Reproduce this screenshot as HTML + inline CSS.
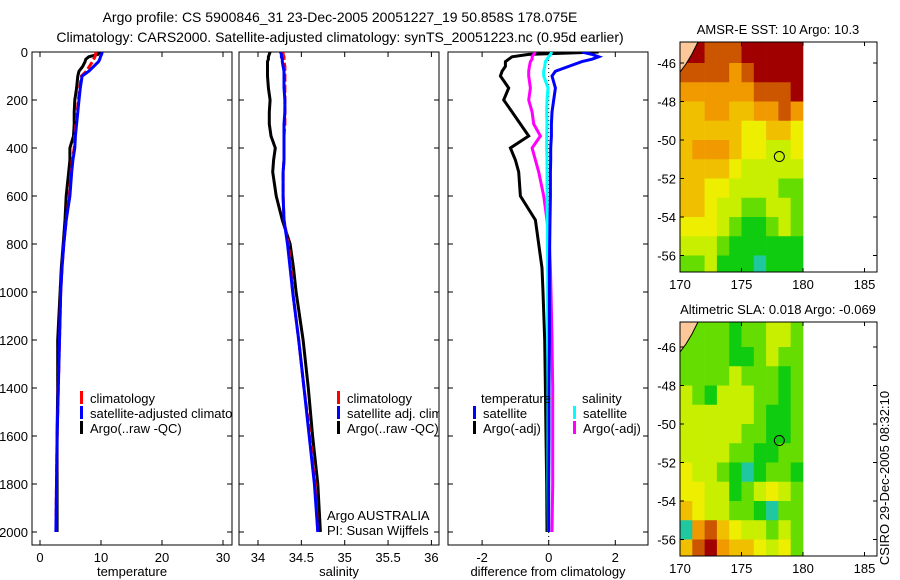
<!DOCTYPE html>
<html><head><meta charset="utf-8">
<style>
html,body{margin:0;padding:0;background:#fff;}
svg{display:block;font-family:"Liberation Sans",sans-serif;}
</style></head>
<body>
<svg id="fig" width="900" height="580" viewBox="0 0 900 580">
<text x="340" y="22" font-size="14" text-anchor="middle">Argo profile: CS 5900846_31 23-Dec-2005 20051227_19 50.858S 178.075E</text>
<text x="340" y="42" font-size="14" text-anchor="middle">Climatology: CARS2000. Satellite-adjusted climatology: synTS_20051223.nc (0.95d earlier)</text>
<text transform="translate(889,478) rotate(-90)" font-size="13" text-anchor="middle">CSIRO 29-Dec-2005 08:32:10</text>
</svg>
<script>
// ---------- data ----------
const depths = [0,10,20,30,40,60,80,100,150,200,250,300,350,400,450,500,600,700,800,900,1000,1200,1400,1600,1800,2000];
const tempClim = [9.2,9.1,9.0,8.8,8.6,8.1,7.6,6.8,6.5,6.3,6.1,5.9,5.7,5.6,5.3,5.1,4.8,4.3,3.9,3.6,3.4,3.2,3.0,2.8,2.7,2.6];
const tempSat = [10.2,10.1,9.9,9.8,9.6,8.8,8.0,6.9,6.6,6.4,6.2,6.0,5.8,5.7,5.4,5.2,4.9,4.3,3.9,3.6,3.4,3.2,3.0,2.8,2.7,2.6];
const tempArgo = [9.8,9.5,8.0,7.5,7.4,7.0,6.4,6.2,6.0,5.7,5.6,5.6,5.5,4.9,4.9,4.7,4.3,4.1,3.8,3.5,3.3,2.9,2.9,2.8,2.8,2.8];
const salClim = [34.29,34.29,34.30,34.30,34.30,34.31,34.31,34.31,34.31,34.31,34.31,34.31,34.30,34.30,34.30,34.29,34.29,34.30,34.35,34.38,34.40,34.47,34.53,34.60,34.66,34.69];
const salSat = [34.26,34.27,34.27,34.28,34.28,34.29,34.30,34.30,34.30,34.31,34.31,34.30,34.30,34.30,34.30,34.29,34.29,34.30,34.34,34.37,34.40,34.47,34.53,34.59,34.65,34.69];
const salArgo = [34.14,34.13,34.12,34.12,34.11,34.11,34.11,34.11,34.12,34.14,34.13,34.13,34.15,34.20,34.18,34.17,34.21,34.28,34.37,34.41,34.44,34.52,34.58,34.63,34.69,34.72];
const dTempSat = [1.0,1.3,1.5,1.3,1.0,0.6,0.2,0.1,0.2,0.15,0.1,0.08,0.08,0.06,0.06,0.05,0.05,0.04,0.03,0.02,0.02,0.02,0.01,0.01,0.0,0.0];
const dTempArgo = [1.5,-0.6,-1.1,-1.2,-1.3,-1.3,-1.4,-1.45,-1.2,-1.35,-1.1,-0.85,-0.6,-1.15,-1.0,-0.9,-0.85,-0.4,-0.3,-0.2,-0.17,-0.12,-0.1,-0.08,-0.06,-0.05];
const dSalSat = [0.1,0.05,0.0,-0.05,-0.1,-0.12,-0.15,-0.15,-0.02,-0.05,-0.06,-0.05,-0.06,-0.06,-0.05,-0.05,-0.05,-0.04,-0.04,-0.03,-0.03,-0.03,-0.02,-0.02,-0.02,-0.01];
const dSalArgo = [-0.4,-0.45,-0.5,-0.5,-0.55,-0.58,-0.6,-0.6,-0.55,-0.6,-0.5,-0.45,-0.25,-0.5,-0.4,-0.3,-0.15,-0.05,0.02,0.05,0.07,0.1,0.12,0.12,0.12,0.1];
const depthTicks = [0,200,400,600,800,1000,1200,1400,1600,1800,2000];
const tempTicks = [0,10,20,30];
const salTicks = [34,34.5,35,35.5,36];
const diffTicks = [-2,0,2];
// map grids: rows lat -45..-56, cols lon 170..179, palette indices
const sstGrid = [
[8,8,7,7,7,8,8,8,8,8],[7,7,7,7,6,7,8,8,8,8],[6,6,6,6,6,6,7,7,7,8],[5,5,6,6,5,5,6,6,7,6],
[5,5,5,5,5,4,4,5,5,4],[5,6,6,6,5,4,4,3,3,4],[5,5,5,5,4,3,3,3,3,3],[5,5,4,4,3,3,3,3,2,2],
[5,5,4,3,3,2,2,3,3,2],[4,4,4,3,2,1,1,2,3,2],[3,3,3,2,1,1,1,1,1,1],[2,2,3,1,1,1,0,1,1,1]];
const slaGrid = [
[2,2,2,2,1,2,2,3,3,2],[2,2,2,2,1,1,2,3,2,2],[2,2,2,2,3,2,2,2,1,2],[3,2,1,3,3,3,2,2,1,2],
[3,3,3,3,3,3,2,1,1,2],[3,3,3,3,3,2,2,1,1,2],[3,3,3,3,2,2,1,1,2,2],[4,3,3,2,1,0,1,2,2,1],
[4,4,3,3,1,2,3,4,3,2],[5,4,3,3,2,2,1,0,2,2],[0,6,7,5,4,3,3,2,3,2],[5,7,8,6,5,5,4,3,4,2]];
const palette = ['#20c8a0','#10cc10','#66dd00','#c8ee00','#eeee00','#f0c000','#f09a00','#cc5500','#a00000'];
const floatLon = 178.075, floatLat = -50.858;
const mapLonTicks = [170,175,180,185];
const mapLatTicks = [-46,-48,-50,-52,-54,-56];

// ---------- helpers ----------
const NS='http://www.w3.org/2000/svg';
const svg=document.getElementById('fig');
function mk(tag,attrs,parent){const e=document.createElementNS(NS,tag);for(const k in attrs)e.setAttribute(k,attrs[k]);(parent||svg).appendChild(e);return e;}
const TOP=52,BOT=545;
const yD=d=>52+d*0.24;
const panels=[
 {x0:32,x1:232,sx:v=>40+v*6.1,ticks:tempTicks,label:'temperature',name:'temperature-panel'},
 {x0:239,x1:439,sx:v=>258+(v-34)*86.7,ticks:salTicks,label:'salinity',name:'salinity-panel'},
 {x0:448,x1:648,sx:v=>548.7+v*33.3,ticks:diffTicks,label:'difference from climatology',name:'difference-panel'}];

panels.forEach((p,i)=>{
 const g=mk('g',{});
 
 
 const cp=mk('clipPath',{id:'clip'+i},g);mk('rect',{x:p.x0,y:TOP,width:p.x1-p.x0,height:BOT-TOP},cp);
 p.g=g;
 const fr=mk('rect',{x:p.x0,y:TOP,width:p.x1-p.x0,height:BOT-TOP,fill:'none',stroke:'#000','stroke-width':1},g);
 
 
 p.ticks.forEach(t=>{const x=p.sx(t);
  mk('line',{x1:x,y1:BOT,x2:x,y2:BOT-5,stroke:'#000'},g);mk('line',{x1:x,y1:TOP,x2:x,y2:TOP+5,stroke:'#000'},g);
  const tl=mk('text',{x:x,y:BOT+17,'font-size':13,'text-anchor':'middle'},g);tl.textContent=t;
  
  });
 depthTicks.forEach(d=>{const y=yD(d);
  mk('line',{x1:p.x0,y1:y,x2:p.x0+5,y2:y,stroke:'#000'},g);mk('line',{x1:p.x1,y1:y,x2:p.x1-5,y2:y,stroke:'#000'},g);
  if(i===0){const tl=mk('text',{x:28,y:y+5,'font-size':13,'text-anchor':'end'},g);tl.textContent=d;
   
   }});
 const xl=mk('text',{x:(p.x0+p.x1)/2,y:576,'font-size':13,'text-anchor':'middle'},g);xl.textContent=p.label;
 
 
});

function series(p,vals,color,w,name,dash){
 const pts=depths.map((d,k)=>p.sx(vals[k]).toFixed(1)+','+yD(d).toFixed(1)).join(' ');
 const a={points:pts,fill:'none',stroke:color,'stroke-width':w,'clip-path':'url(#clip'+panels.indexOf(p)+')'};
 if(dash)a['stroke-dasharray']=dash;
 const e=mk('polyline',a,p.g);
 
 
}
const [P1,P2,P3]=panels;
series(P1,tempArgo,'#000',3,'temperature-argo-line');
series(P1,tempClim,'#f00',3,'temperature-climatology-line','8 3');
series(P1,tempSat,'#00f',3,'temperature-satellite-line');
series(P2,salArgo,'#000',3,'salinity-argo-line');
series(P2,salClim,'#f00',3,'salinity-climatology-line','8 3');
series(P2,salSat,'#00f',3,'salinity-satellite-line');
const zl=mk('line',{x1:P3.sx(0),y1:TOP,x2:P3.sx(0),y2:BOT,stroke:'#000','stroke-dasharray':'1 3'},P3.g);


series(P3,dTempArgo,'#000',3,'temp-diff-argo-line');
series(P3,dSalArgo,'#f0f',3,'sal-diff-argo-line');
series(P3,dSalSat,'#0ff',3,'sal-diff-satellite-line');
series(P3,dTempSat,'#00f',3,'temp-diff-satellite-line');

function legend(p,x,y,color,label,name){
 const b=mk('rect',{x:x,y:y-12,width:3,height:13,fill:color},p.g);
 
 
 const t=mk('text',{x:x+10,y:y,'font-size':13,'clip-path':'url(#clip'+panels.indexOf(p)+')'},p.g);t.textContent=label;
 
 
}
legend(P1,80,403,'#f00','climatology','legend-climatology');
legend(P1,80,418,'#00f','satellite-adjusted climatology','legend-satellite');
legend(P1,80,433,'#000','Argo(..raw -QC)','legend-argo');
legend(P2,337,403,'#f00','climatology','legend-climatology');
legend(P2,337,418,'#00f','satellite adj. clim.','legend-satellite');
legend(P2,337,433,'#000','Argo(..raw -QC)','legend-argo');
legend(P3,473,418,'#00f','satellite','legend-temp-satellite');
legend(P3,473,433,'#000','Argo(-adj)','legend-temp-argo');
legend(P3,573,418,'#0ff','satellite','legend-sal-satellite');
legend(P3,573,433,'#f0f','Argo(-adj)','legend-sal-argo');
[['temperature',481],['salinity',582]].forEach(([s,x])=>{const t=mk('text',{x:x,y:403,'font-size':13},P3.g);t.textContent=s;
 
 });
[['Argo AUSTRALIA',520],['PI: Susan Wijffels',535]].forEach(([s,y])=>{const t=mk('text',{x:327,y:y,'font-size':13},P2.g);t.textContent=s;
 
 });

// ---------- maps ----------
function drawMap(top,bot,lat46y,grid,title,name){
 const g=mk('g',{});
 
 
 const L=680,R=877,lx=lon=>680+(lon-170)*12.3,ly=lat=>lat46y+(-46-lat)*19.25;
 grid.forEach((row,r)=>row.forEach((v,c)=>{
  const y0=r===0?top:ly(-45-r), y1=r===grid.length-1?bot:ly(-46-r);
  const cell=mk('rect',{x:lx(170+c),y:y0,width:12.6,height:y1-y0+0.5,fill:palette[v]},g);
  
  
 }));
 const land=mk('polygon',{points:`${L},${top} ${L+18},${top} ${L+12},${top+12} ${L+6},${top+22} ${L},${top+30}`,fill:'#fcc89a',stroke:'#000','stroke-width':1},g);
 
 
 const fr=mk('rect',{x:L,y:top,width:R-L,height:bot-top,fill:'none',stroke:'#000'},g);
 
 
 mapLonTicks.forEach(lon=>{const x=lx(lon);mk('line',{x1:x,y1:bot,x2:x,y2:bot-4,stroke:'#000'},g);mk('line',{x1:x,y1:top,x2:x,y2:top+4,stroke:'#000'},g);
  const t=mk('text',{x:x,y:bot+17,'font-size':13,'text-anchor':'middle'},g);t.textContent=lon;
  
  });
 mapLatTicks.forEach(lat=>{const y=ly(lat);mk('line',{x1:L,y1:y,x2:L+4,y2:y,stroke:'#000'},g);mk('line',{x1:R,y1:y,x2:R-4,y2:y,stroke:'#000'},g);
  const t=mk('text',{x:676,y:y+5,'font-size':13,'text-anchor':'end'},g);t.textContent=lat;
  
  });
 const c=mk('circle',{cx:lx(floatLon),cy:ly(floatLat),r:5,fill:'none',stroke:'#000'},g);
 
 
 const t=mk('text',{x:778,y:top-8,'font-size':13,'text-anchor':'middle'},g);t.textContent=title;
 
 
}
drawMap(42,272,63,sstGrid,'AMSR-E SST: 10 Argo: 10.3','sst-map');
drawMap(322,556,347,slaGrid,'Altimetric SLA: 0.018 Argo: -0.069','sla-map');
</script>
</body></html>
